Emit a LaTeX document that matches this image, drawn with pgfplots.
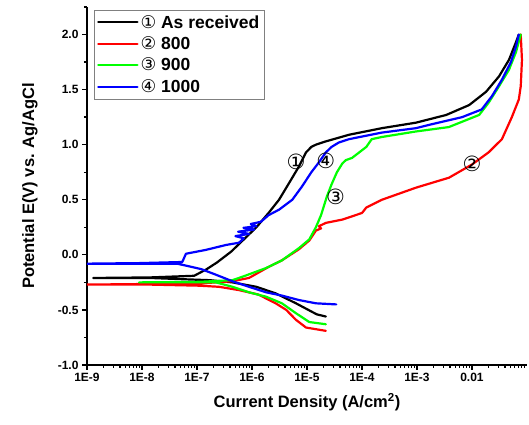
\documentclass[border=0pt]{standalone}
\usepackage{fontspec}
\setmainfont{Liberation Sans}
\newfontfamily\dejavu{DejaVu Sans}
\usepackage{pgfplots}
\pgfplotsset{compat=1.18}
\tikzset{
  curve/.style={line width=2.2pt, line join=round, line cap=round},
  lbl/.style={font=\dejavu\fontsize{21}{21}\selectfont, inner sep=0pt},
}

\begin{document}
\begin{tikzpicture}
\begin{axis}[
  scale only axis,
  width=440pt, height=358pt,
  xmode=log,
  xmin=1e-9, xmax=0.1,
  ymin=-1, ymax=2.25,
  axis lines*=left,
  axis line style={line width=1.6pt},
  tick align=outside,
  major tick length=5pt, minor tick length=3pt,
  every tick/.style={black, line width=1.3pt},
  xtick={1e-9,1e-8,1e-7,1e-6,1e-5,1e-4,1e-3,1e-2},
  xticklabels={1E-9,1E-8,1E-7,1E-6,1E-5,1E-4,1E-3,0.01},
  minor xtick={2e-9,3e-9,4e-9,5e-9,6e-9,7e-9,8e-9,9e-9,
    2e-8,3e-8,4e-8,5e-8,6e-8,7e-8,8e-8,9e-8,
    2e-7,3e-7,4e-7,5e-7,6e-7,7e-7,8e-7,9e-7,
    2e-6,3e-6,4e-6,5e-6,6e-6,7e-6,8e-6,9e-6,
    2e-5,3e-5,4e-5,5e-5,6e-5,7e-5,8e-5,9e-5,
    2e-4,3e-4,4e-4,5e-4,6e-4,7e-4,8e-4,9e-4,
    2e-3,3e-3,4e-3,5e-3,6e-3,7e-3,8e-3,9e-3,
    2e-2,3e-2,4e-2,5e-2,6e-2,7e-2,8e-2,9e-2},
  ytick={-1,-0.5,0,0.5,1,1.5,2},
  minor ytick={-0.75,-0.25,0.25,0.75,1.25,1.75,2.25},
  yticklabel style={/pgf/number format/.cd, fixed, fixed zerofill, precision=1, assume math mode=true},
  tick label style={font=\fontsize{12}{12}\selectfont\bfseries},
  xlabel={Current Density (A/cm\textsuperscript{2})},
  ylabel={Potential E(V) vs. Ag/AgCl},
  label style={font=\fontsize{16.5}{18}\selectfont\bfseries},
  xlabel style={at={(axis description cs:0.5,-0.103)}, anchor=center},
  ylabel style={at={(axis description cs:-0.13,0.5)}, anchor=center},
  legend style={at={(axis description cs:0.016,0.992)}, anchor=north west,
    draw=gray, line width=0.6pt, fill=white,
    font=\fontsize{17.5}{19}\selectfont\bfseries, row sep=3pt, inner sep=3pt},
  legend cell align=left,
  legend image code/.code={\draw[#1,line width=2pt] (0pt,0pt) -- (35pt,0pt); \path (0pt,0pt) -- (39pt,0pt);},
]
% 1: as received
\addplot[curve, black] coordinates {
  (2.2e-5,-0.56) (1.5e-5,-0.54) (6.3e-6,-0.44) (2.7e-6,-0.35) (1.2e-6,-0.29)
  (4.4e-7,-0.25) (1.7e-7,-0.23) (4.7e-8,-0.22) (1.4e-8,-0.21) (1.3e-9,-0.21)
  (1.4e-8,-0.205) (8.9e-8,-0.19) (1.5e-7,-0.13) (2.3e-7,-0.07) (4.2e-7,0.03)
  (7.1e-7,0.14) (1.2e-6,0.25) (2.0e-6,0.38) (3.1e-6,0.50) (4.7e-6,0.65)
  (7.1e-6,0.80) (9.6e-6,0.93) (1.2e-5,0.98) (1.45e-5,1.0) (2.2e-5,1.03)
  (5.8e-5,1.09) (2.3e-4,1.15) (9.6e-4,1.20) (3.4e-3,1.27) (8.9e-3,1.36)
  (1.8e-2,1.48) (3.1e-2,1.62) (4.7e-2,1.77) (6.3e-2,1.93) (7.1e-2,2.0)};
\addlegendentry{{\dejavu\mdseries ①} As received}
% 2: 800
\addplot[curve, red] coordinates {
  (2.2e-5,-0.69) (9.6e-6,-0.66) (6.3e-6,-0.59) (4.2e-6,-0.50) (2.7e-6,-0.44)
  (1.3e-6,-0.36) (5.8e-7,-0.32) (2.5e-7,-0.29) (1.1e-7,-0.28) (1.35e-8,-0.27)
  (1.0e-9,-0.27)
  (1.1e-7,-0.26) (4.4e-7,-0.24) (8.8e-7,-0.21) (2.0e-6,-0.11) (3.5e-6,-0.05)
  (7.1e-6,0.05) (1.1e-5,0.13) (1.45e-5,0.22) (1.8e-5,0.24) (1.65e-5,0.26)
  (2.2e-5,0.29) (4.4e-5,0.32) (1.0e-4,0.38) (1.2e-4,0.43) (2.3e-4,0.50)
  (9.6e-4,0.61) (3.8e-3,0.70) (1.0e-2,0.82) (2.0e-2,0.93) (3.5e-2,1.05)
  (5.3e-2,1.25) (7.1e-2,1.41) (7.7e-2,1.53) (8.1e-2,1.77) (7.7e-2,2.0)};
\addlegendentry{{\dejavu\mdseries ②} 800}
% 3: 900
\addplot[curve, green] coordinates {
  (2.2e-5,-0.63) (1.1e-5,-0.61) (6.3e-6,-0.53) (3.5e-6,-0.44) (1.8e-6,-0.38)
  (8.8e-7,-0.34) (4.4e-7,-0.29) (2.2e-7,-0.25) (1.1e-7,-0.25) (8.9e-9,-0.25)
  (1.1e-7,-0.245) (4.4e-7,-0.23) (6.6e-7,-0.20) (1.8e-6,-0.12) (3.5e-6,-0.05)
  (7.1e-6,0.06) (1.1e-5,0.14) (1.45e-5,0.25) (1.8e-5,0.36) (2.3e-5,0.53)
  (2.8e-5,0.64) (3.5e-5,0.75) (4.4e-5,0.83) (5.1e-5,0.86) (6.6e-5,0.88)
  (8.9e-5,0.93) (1.2e-4,0.98) (1.5e-4,1.05) (2.3e-4,1.07) (9.6e-4,1.12)
  (3.8e-3,1.16) (1.35e-2,1.27) (2.0e-2,1.38) (3.1e-2,1.53) (4.7e-2,1.68)
  (6.3e-2,1.84) (7.7e-2,2.0)};
\addlegendentry{{\dejavu\mdseries ③} 900}
% 4: 1000
\addplot[curve, blue] coordinates {
  (3.4e-5,-0.45) (1.45e-5,-0.44) (7.1e-6,-0.41) (3.5e-6,-0.37) (1.8e-6,-0.34)
  (8.8e-7,-0.29) (4.4e-7,-0.24) (2.2e-7,-0.18) (1.2e-7,-0.13) (6.6e-8,-0.10)
  (4.3e-8,-0.08) (1.0e-9,-0.08)
  (8.9e-9,-0.075) (5.4e-8,-0.065) (6.3e-8,0.01) (1.45e-7,0.045) (3.4e-7,0.09)
  (5.8e-7,0.11) (7.1e-7,0.15) (5.0e-7,0.17) (8.8e-7,0.19) (5.6e-7,0.21)
  (1.1e-6,0.23) (7.0e-7,0.245) (1.2e-6,0.26) (9.5e-7,0.28) (1.45e-6,0.30)
  (2.0e-6,0.36) (3.1e-6,0.41) (5.4e-6,0.50) (8.1e-6,0.62) (1.2e-5,0.75)
  (1.65e-5,0.84) (2.2e-5,0.93) (2.8e-5,0.98) (3.8e-5,1.02) (5.8e-5,1.05)
  (2.3e-4,1.11) (9.6e-4,1.15) (1.66e-3,1.18) (6.6e-3,1.25) (1.5e-2,1.32)
  (2.3e-2,1.44) (3.5e-2,1.59) (5.1e-2,1.75) (6.3e-2,1.89) (7.1e-2,2.0)};
\addlegendentry{{\dejavu\mdseries ④} 1000}
% curve labels
\node[lbl] at (axis cs:6.3e-6,0.84) {①};
\node[lbl] at (axis cs:1.0e-2,0.83) {②};
\node[lbl] at (axis cs:3.3e-5,0.53) {③};
\node[lbl] at (axis cs:2.2e-5,0.85) {④};
\end{axis}
\pgfresetboundingbox
\path ([xshift=-87pt,yshift=-60pt]current axis.south west) rectangle ([xshift=2pt,yshift=7pt]current axis.north east);
\end{tikzpicture}
\end{document}
